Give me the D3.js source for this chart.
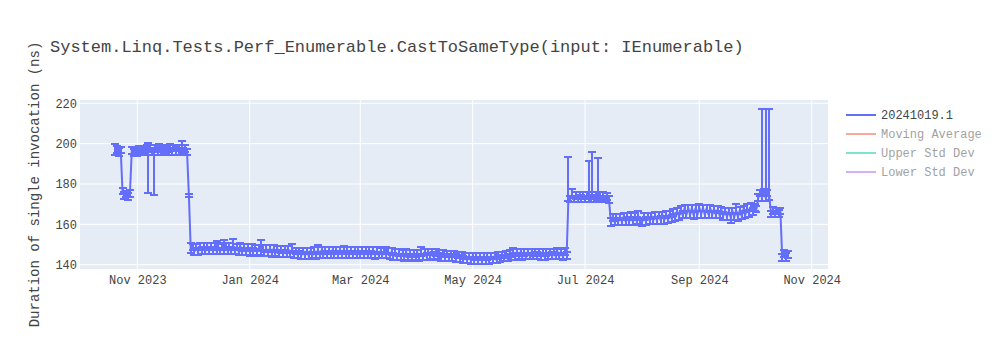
<!DOCTYPE html>
<html>
<head>
<meta charset="utf-8">
<script src="https://cdn.jsdelivr.net/npm/d3@7"></script>
<style>
  html, body { margin: 0; padding: 0; background: #fff; }
  svg { display: block; }
  text { font-family: "Liberation Mono", "Courier New", monospace; }
</style>
</head>
<body>
<svg id="chart" width="1000" height="350"></svg>
<script>
const chartTitle = "System.Linq.Tests.Perf_Enumerable.CastToSameType(input: IEnumerable)";
const yAxisTitle = "Duration of single invocation (ns)";
const legendNames = ["20241019.1", "Moving Average", "Upper Std Dev", "Lower Std Dev"];
const legendColors = ["#636efa", "#EF553B", "#00cc96", "#ab63fa"];
const xTickDates = ["2023-11-01", "2024-01-01", "2024-03-01", "2024-05-01", "2024-07-01", "2024-09-01", "2024-11-01"];
const xTickLabels = ["Nov 2023", "Jan 2024", "Mar 2024", "May 2024", "Jul 2024", "Sep 2024", "Nov 2024"];
const yTicks = [140, 160, 180, 200, 220];

const dates = [
"2023-10-20","2023-10-21","2023-10-22","2023-10-23","2023-10-24","2023-10-25","2023-10-26","2023-10-27","2023-10-28","2023-10-29","2023-10-30","2023-10-31",
"2023-11-01","2023-11-02","2023-11-03","2023-11-04","2023-11-05","2023-11-06","2023-11-07","2023-11-08","2023-11-09","2023-11-10",
"2023-11-11","2023-11-12","2023-11-13","2023-11-14","2023-11-15","2023-11-16","2023-11-17","2023-11-18","2023-11-19","2023-11-20",
"2023-11-21","2023-11-22","2023-11-23","2023-11-24","2023-11-25","2023-11-26","2023-11-27","2023-11-28","2023-11-29","2023-11-30",
"2023-12-01","2023-12-02","2023-12-03","2023-12-04","2023-12-05","2023-12-06","2023-12-07","2023-12-08","2023-12-09","2023-12-10",
"2023-12-11","2023-12-12","2023-12-13","2023-12-14","2023-12-15","2023-12-16","2023-12-17","2023-12-18","2023-12-19","2023-12-20",
"2023-12-21","2023-12-22","2023-12-23","2023-12-24","2023-12-25","2023-12-26","2023-12-27","2023-12-28","2023-12-29","2023-12-30","2023-12-31",
"2024-01-01","2024-01-02","2024-01-03","2024-01-04","2024-01-05","2024-01-06","2024-01-07","2024-01-08","2024-01-09","2024-01-10",
"2024-01-11","2024-01-12","2024-01-13","2024-01-14","2024-01-15","2024-01-16","2024-01-17","2024-01-18","2024-01-19","2024-01-20",
"2024-01-21","2024-01-22","2024-01-23","2024-01-24","2024-01-25","2024-01-26","2024-01-27","2024-01-28","2024-01-29","2024-01-30","2024-01-31",
"2024-02-01","2024-02-02","2024-02-03","2024-02-04","2024-02-05","2024-02-06","2024-02-07","2024-02-08","2024-02-09","2024-02-10",
"2024-02-11","2024-02-12","2024-02-13","2024-02-14","2024-02-15","2024-02-16","2024-02-17","2024-02-18","2024-02-19","2024-02-20",
"2024-02-21","2024-02-22","2024-02-23","2024-02-24","2024-02-25","2024-02-26","2024-02-27","2024-02-28","2024-02-29",
"2024-03-01","2024-03-02","2024-03-03","2024-03-04","2024-03-05","2024-03-06","2024-03-07","2024-03-08","2024-03-09","2024-03-10",
"2024-03-11","2024-03-12","2024-03-13","2024-03-14","2024-03-15","2024-03-16","2024-03-17","2024-03-18","2024-03-19","2024-03-20",
"2024-03-21","2024-03-22","2024-03-23","2024-03-24","2024-03-25","2024-03-26","2024-03-27","2024-03-28","2024-03-29","2024-03-30","2024-03-31",
"2024-04-01","2024-04-02","2024-04-03","2024-04-04","2024-04-05","2024-04-06","2024-04-07","2024-04-08","2024-04-09","2024-04-10",
"2024-04-11","2024-04-12","2024-04-13","2024-04-14","2024-04-15","2024-04-16","2024-04-17","2024-04-18","2024-04-19","2024-04-20",
"2024-04-21","2024-04-22","2024-04-23","2024-04-24","2024-04-25","2024-04-26","2024-04-27","2024-04-28","2024-04-29","2024-04-30",
"2024-05-01","2024-05-02","2024-05-03","2024-05-04","2024-05-05","2024-05-06","2024-05-07","2024-05-08","2024-05-09","2024-05-10",
"2024-05-11","2024-05-12","2024-05-13","2024-05-14","2024-05-15","2024-05-16","2024-05-17","2024-05-18","2024-05-19","2024-05-20",
"2024-05-21","2024-05-22","2024-05-23","2024-05-24","2024-05-25","2024-05-26","2024-05-27","2024-05-28","2024-05-29","2024-05-30","2024-05-31",
"2024-06-01","2024-06-02","2024-06-03","2024-06-04","2024-06-05","2024-06-06","2024-06-07","2024-06-08","2024-06-09","2024-06-10",
"2024-06-11","2024-06-12","2024-06-13","2024-06-14","2024-06-15","2024-06-16","2024-06-17","2024-06-18","2024-06-19","2024-06-20",
"2024-06-21","2024-06-22","2024-06-23","2024-06-24","2024-06-25","2024-06-26","2024-06-27","2024-06-28","2024-06-29","2024-06-30",
"2024-07-01","2024-07-02","2024-07-03","2024-07-04","2024-07-05","2024-07-06","2024-07-07","2024-07-08","2024-07-09","2024-07-10",
"2024-07-11","2024-07-12","2024-07-13","2024-07-14","2024-07-15","2024-07-16","2024-07-17","2024-07-18","2024-07-19","2024-07-20",
"2024-07-21","2024-07-22","2024-07-23","2024-07-24","2024-07-25","2024-07-26","2024-07-27","2024-07-28","2024-07-29","2024-07-30","2024-07-31",
"2024-08-01","2024-08-02","2024-08-03","2024-08-04","2024-08-05","2024-08-06","2024-08-07","2024-08-08","2024-08-09","2024-08-10",
"2024-08-11","2024-08-12","2024-08-13","2024-08-14","2024-08-15","2024-08-16","2024-08-17","2024-08-18","2024-08-19","2024-08-20",
"2024-08-21","2024-08-22","2024-08-23","2024-08-24","2024-08-25","2024-08-26","2024-08-27","2024-08-28","2024-08-29","2024-08-30","2024-08-31",
"2024-09-01","2024-09-02","2024-09-03","2024-09-04","2024-09-05","2024-09-06","2024-09-07","2024-09-08","2024-09-09","2024-09-10",
"2024-09-11","2024-09-12","2024-09-13","2024-09-14","2024-09-15","2024-09-16","2024-09-17","2024-09-18","2024-09-19","2024-09-20",
"2024-09-21","2024-09-22","2024-09-23","2024-09-24","2024-09-25","2024-09-26","2024-09-27","2024-09-28","2024-09-29","2024-09-30",
"2024-10-01","2024-10-02","2024-10-03","2024-10-04","2024-10-05","2024-10-06","2024-10-07","2024-10-08","2024-10-09","2024-10-10",
"2024-10-11","2024-10-12","2024-10-13","2024-10-14","2024-10-15","2024-10-16","2024-10-17","2024-10-18","2024-10-19"
];

const values = [
196.0,197.2,195.8,197.0,175.6,174.2,175.0,174.0,175.2,196.6,195.4,197.0,
195.6,197.2,195.8,197.4,196.0,197.6,196.0,197.6,196.2,196.2,
197.8,196.3,197.6,196.2,197.8,196.4,197.6,196.1,197.9,196.3,
197.8,196.4,197.7,196.2,197.2,196.0,197.4,195.9,174.3,147.5,
148.9,146.6,148.8,146.5,149.0,146.8,148.9,146.9,149.2,147.0,
149.3,147.0,149.1,146.8,148.8,146.7,149.0,147.0,149.2,146.9,
149.0,147.1,149.3,146.8,148.9,146.6,149.0,146.5,148.8,146.4,148.7,
146.3,148.6,146.5,148.5,146.2,148.4,146.5,148.3,146.0,147.9,
145.9,148.1,145.7,148.0,145.8,147.8,145.5,147.6,145.6,147.7,
145.4,147.6,145.3,147.7,145.2,147.0,144.8,146.9,144.6,146.8,144.5,
146.9,144.5,147.0,144.6,147.1,144.7,147.3,144.9,147.2,144.8,
147.1,145.0,147.2,145.1,147.3,145.0,147.2,145.1,147.1,145.0,
147.3,145.2,147.1,145.0,147.2,145.1,147.0,144.9,147.1,
145.0,147.3,144.9,147.2,144.8,147.0,144.8,147.1,144.7,147.0,
144.6,146.9,144.8,147.0,144.7,146.8,144.5,146.5,144.0,146.2,
143.9,146.0,143.8,145.8,143.7,145.9,143.6,145.6,143.7,145.5,143.6,
145.8,143.7,145.9,143.8,146.2,144.0,146.3,144.2,146.4,144.3,
146.2,144.1,145.9,143.8,145.6,143.5,145.4,143.4,145.3,143.5,
145.2,143.3,145.0,143.0,144.8,142.4,144.5,142.3,144.4,142.2,
144.4,142.0,144.3,142.1,144.2,142.0,144.3,142.1,144.2,142.0,
144.4,142.2,144.5,142.3,144.6,142.8,145.0,143.1,145.2,143.4,
145.6,143.8,145.9,144.0,146.2,144.1,146.3,144.0,146.2,144.1,146.4,
144.2,146.4,144.3,146.2,144.4,146.3,144.1,146.4,144.0,146.3,
144.2,146.4,144.3,146.5,144.2,146.6,144.1,146.5,144.0,146.6,
144.6,173.4,172.6,174.4,172.7,174.2,172.6,174.3,172.8,174.4,
172.7,174.3,173.0,172.9,174.6,172.8,174.4,173.0,174.3,172.7,
174.1,172.6,173.9,172.2,161.0,163.4,161.2,163.6,161.3,163.7,
161.4,163.9,161.5,163.8,161.6,163.7,161.5,163.9,161.7,163.9,161.6,
161.5,163.8,161.6,164.0,161.8,164.2,161.9,164.4,162.0,164.5,
162.1,164.7,162.2,164.8,162.4,165.2,162.8,165.8,163.4,166.6,
164.0,167.4,164.6,168.0,164.8,168.1,164.6,168.2,164.4,168.0,164.7,
168.3,165.0,168.2,164.8,168.0,164.9,167.9,164.7,167.7,164.8,
167.4,164.6,167.2,164.2,166.8,163.8,166.5,163.6,166.6,163.8,
166.8,163.7,167.0,164.2,167.6,164.8,168.2,165.4,168.8,166.4,
168.4,167.6,173.2,175.6,173.5,175.6,173.4,175.5,173.6,165.0,
166.8,165.0,166.6,165.1,166.7,143.6,145.4,143.8,145.2
];

const errPlus = [
3.7,1.6,1.8,1.5,2.2,1.6,1.7,1.5,1.7,1.6,1.8,1.5,
1.7,1.5,1.8,1.6,1.7,1.5,4.5,1.6,1.7,1.5,
1.6,1.8,2.2,1.6,1.5,1.7,1.6,1.8,2.1,1.6,
1.5,1.7,1.6,1.8,4.0,1.6,1.7,1.5,0.6,3.2,
1.6,1.8,1.7,1.5,1.6,1.8,1.7,1.5,1.6,1.8,
1.5,1.7,1.6,4.7,1.7,1.6,1.8,5.4,1.5,1.7,
1.6,1.8,3.4,1.7,1.6,1.5,1.8,1.7,1.6,1.8,1.5,
1.7,1.6,1.8,1.5,1.7,1.6,5.9,1.7,1.5,1.8,
1.6,1.7,1.5,1.8,1.6,1.7,1.5,1.8,1.6,1.7,
1.5,1.8,1.6,2.8,1.7,1.5,1.8,1.6,1.7,1.5,1.8,
1.6,1.7,1.5,1.8,1.6,1.7,2.6,1.6,1.8,1.5,
1.7,1.6,1.8,1.5,1.7,1.6,1.8,1.5,1.7,1.6,
1.8,1.5,1.7,1.6,1.8,1.5,1.7,1.6,1.8,
1.7,1.6,1.8,1.5,1.7,1.6,1.8,1.5,1.7,1.6,
1.8,1.5,1.7,1.6,4.3,1.7,1.5,1.8,1.6,1.7,
1.5,1.8,1.6,1.7,1.5,1.8,1.6,1.7,1.5,1.8,1.6,
1.7,1.5,3.0,1.7,1.6,1.8,1.5,1.7,1.6,1.8,
1.5,1.7,1.6,1.8,1.5,1.7,1.6,1.8,1.5,1.7,
1.6,1.8,1.5,1.7,1.6,1.8,1.5,1.7,1.6,1.8,
1.5,1.7,1.6,1.8,1.5,1.7,1.6,1.8,1.5,1.7,
1.6,1.8,1.5,1.7,1.6,1.8,1.5,1.7,1.6,1.8,
1.5,1.7,2.6,1.8,1.5,1.7,1.6,1.8,1.5,1.7,1.6,
1.8,1.5,1.7,1.6,1.8,1.5,1.7,1.6,1.8,1.5,
1.7,1.6,1.8,1.5,1.7,1.6,1.8,1.5,1.7,1.6,
1.8,20.2,1.6,3.0,1.5,1.7,1.6,1.5,1.7,1.6,
1.5,1.7,18.4,1.6,21.4,1.5,1.7,19.8,1.6,1.5,
1.7,1.6,1.5,1.7,1.9,1.6,1.8,1.5,1.7,1.6,
1.8,1.5,1.7,1.6,1.8,2.6,1.7,1.6,1.8,2.5,1.6,
1.7,1.6,1.8,1.5,1.7,1.6,1.8,1.5,1.7,1.6,
1.8,1.5,1.7,1.6,1.8,1.5,1.7,1.6,1.8,1.5,
1.7,1.6,1.8,1.5,1.7,1.6,1.8,1.5,1.7,1.6,1.8,
1.6,1.8,1.5,1.7,1.6,1.8,1.5,1.7,1.6,1.8,
1.5,1.7,1.6,1.8,1.5,1.7,1.6,1.8,1.5,1.7,
3.2,1.6,1.8,1.5,1.7,1.6,1.8,1.5,1.7,1.6,
1.7,1.6,1.8,1.6,43.7,1.7,43.8,1.6,43.6,1.8,
1.6,1.7,1.5,1.8,1.6,1.8,1.7,1.8,1.6
];

const errMinus = [
1.7,1.6,1.8,1.5,0.6,1.7,1.6,1.8,1.5,1.7,1.6,1.8,
1.5,1.7,1.6,1.8,1.5,1.7,20.4,1.6,1.8,21.8,
1.5,1.7,1.6,1.8,1.5,1.7,1.6,1.8,1.5,1.7,
1.6,1.8,1.5,1.7,1.6,1.8,1.5,1.7,0.6,1.7,
1.8,1.6,1.7,1.5,1.8,1.6,1.7,1.5,1.8,1.6,
1.7,1.5,1.8,1.6,1.7,1.5,1.8,1.6,1.7,1.5,
1.8,1.6,1.7,1.5,1.8,1.6,1.7,1.5,1.8,1.6,1.7,
1.8,1.6,1.7,1.5,1.8,1.6,1.7,1.5,1.8,1.6,
1.7,1.5,1.8,1.6,1.7,1.5,1.8,1.6,1.7,1.5,
1.8,1.6,1.7,1.5,1.8,1.6,1.7,1.5,1.8,1.6,1.7,
1.6,1.7,1.8,1.5,1.6,1.7,1.8,1.5,1.6,1.7,
1.8,1.5,1.6,1.7,1.8,1.5,1.6,1.7,1.8,1.5,
1.6,1.7,1.8,1.5,1.6,1.7,1.8,1.5,1.6,
1.7,1.8,1.5,1.6,1.7,1.8,1.5,1.6,1.7,1.8,
1.5,1.6,1.7,1.8,1.5,1.6,1.7,1.8,1.5,1.6,
1.7,1.8,1.5,1.6,1.7,1.8,1.5,1.6,1.7,1.8,1.5,
1.6,1.8,1.7,1.5,1.6,1.8,1.7,1.5,1.6,1.8,
1.7,1.5,1.6,1.8,1.7,1.5,1.6,1.8,1.7,1.5,
1.6,1.8,1.7,1.5,1.6,1.8,1.7,1.5,1.6,1.8,
1.7,1.5,1.8,1.6,1.7,1.5,1.8,1.6,1.7,1.5,
1.8,1.6,1.7,1.5,1.8,1.6,1.7,1.5,1.8,1.6,
1.7,1.5,1.8,1.6,1.7,1.5,1.8,1.6,1.7,1.5,1.8,
1.5,1.8,1.6,1.7,1.5,1.8,1.6,1.7,1.5,1.8,
1.6,1.7,1.5,1.8,1.6,1.7,1.5,1.8,1.6,1.7,
1.8,1.6,1.7,1.5,1.8,1.6,1.7,1.5,1.8,1.6,
1.7,1.5,1.8,1.6,1.7,1.5,1.8,1.6,1.7,1.5,
1.8,1.6,1.7,1.5,1.8,1.6,1.7,1.5,1.8,1.6,
1.7,1.5,1.8,1.6,1.7,1.5,1.8,1.6,1.7,1.5,1.8,
2.4,1.6,1.7,1.5,1.8,1.6,1.7,1.5,1.8,1.6,
1.7,1.5,1.8,1.6,1.7,1.5,1.8,1.6,1.7,1.5,
1.8,1.6,1.7,1.5,1.8,1.6,1.7,1.5,1.8,1.6,1.7,
1.5,1.8,1.6,1.7,1.5,1.8,1.6,1.7,1.5,1.8,
1.6,1.7,1.5,1.8,1.6,1.7,1.5,3.0,1.6,1.7,
1.5,1.8,1.6,1.7,1.5,1.8,1.6,1.7,1.5,1.8,
1.7,1.6,1.8,1.5,1.7,1.6,1.8,1.5,1.7,1.6,
1.8,1.5,1.7,1.6,1.8,1.8,1.7,1.9,1.8
];

const svg = d3.select("#chart");
const plot = { left: 80, right: 828, top: 100, bottom: 269 };
const parse = d3.utcParse("%Y-%m-%d");
const parseT = d3.utcParse("%Y-%m-%dT%H:%M");

const x = d3.scaleUtc()
  .domain([parseT("2023-09-30T21:36"), parseT("2024-11-09T20:24")])
  .range([plot.left, plot.right]);
const y = d3.scaleLinear()
  .domain([137.87, 221.63])
  .range([plot.bottom, plot.top]);

const data = dates.map((d, i) => ({ t: parse(d), v: values[i], ep: errPlus[i], em: errMinus[i] }));

// background
svg.append("rect").attr("x", plot.left).attr("y", plot.top)
  .attr("width", plot.right - plot.left).attr("height", plot.bottom - plot.top)
  .attr("fill", "#E5ECF6");

// gridlines
const xt = xTickDates.map(parse);
svg.append("g").selectAll("line").data(xt).join("line")
  .attr("x1", d => x(d)).attr("x2", d => x(d))
  .attr("y1", plot.top).attr("y2", plot.bottom)
  .attr("stroke", "#fff").attr("stroke-width", 1);
svg.append("g").selectAll("line").data(yTicks).join("line")
  .attr("x1", plot.left).attr("x2", plot.right)
  .attr("y1", d => y(d)).attr("y2", d => y(d))
  .attr("stroke", "#fff").attr("stroke-width", 1);

// axes
const xAxis = d3.axisBottom(x).tickValues(xt)
  .tickFormat((d, i) => xTickLabels[i]).tickSize(0).tickPadding(6);
const gx = svg.append("g").attr("transform", `translate(0,${plot.bottom})`).call(xAxis);
gx.select(".domain").remove();
gx.selectAll("text").attr("fill", "#444").style("font-size", "12px")
  .style("font-family", '"Liberation Mono", monospace');

const yAxis = d3.axisLeft(y).tickValues(yTicks).tickSize(0).tickPadding(3);
const gy = svg.append("g").attr("transform", `translate(${plot.left},0)`).call(yAxis);
gy.select(".domain").remove();
gy.selectAll("text").attr("fill", "#444").style("font-size", "12px")
  .style("font-family", '"Liberation Mono", monospace');

// error bars
const color = legendColors[0];
const eb = svg.append("g").attr("stroke", color).attr("stroke-width", 2).attr("fill", "none")
  .attr("shape-rendering", "crispEdges");
eb.selectAll("path").data(data).join("path")
  .attr("d", d => {
    const cx = x(d.t), yh = y(d.v + d.ep), yl = y(d.v - d.em);
    return `M${cx},${yh}V${yl}M${cx - 4},${yh}h8M${cx - 4},${yl}h8`;
  });

// line
const line = d3.line().x(d => x(d.t)).y(d => y(d.v));
svg.append("path").datum(data).attr("d", line)
  .attr("fill", "none").attr("stroke", color).attr("stroke-width", 2)
  .attr("stroke-linejoin", "round");

// title
svg.append("text").attr("x", 50).attr("y", 52).text(chartTitle)
  .attr("fill", "#444").style("font-size", "17px");

// y axis title
svg.append("text")
  .attr("transform", `translate(39,${(plot.top + plot.bottom) / 2}) rotate(-90)`)
  .attr("text-anchor", "middle").text(yAxisTitle)
  .attr("fill", "#444").style("font-size", "14px");

// legend
const lg = svg.append("g");
const items = lg.selectAll("g").data(legendNames).join("g")
  .attr("transform", (d, i) => `translate(846,${115 + i * 19})`)
  .attr("opacity", (d, i) => i === 0 ? 1 : 0.5);
items.append("line").attr("x1", 0).attr("x2", 30).attr("y1", 0).attr("y2", 0)
  .attr("stroke", (d, i) => legendColors[i]).attr("stroke-width", 2);
items.append("text").attr("x", 35).attr("y", 0).attr("dy", "0.35em")
  .text(d => d).attr("fill", "#444").style("font-size", "12px");
</script>
</body>
</html>
